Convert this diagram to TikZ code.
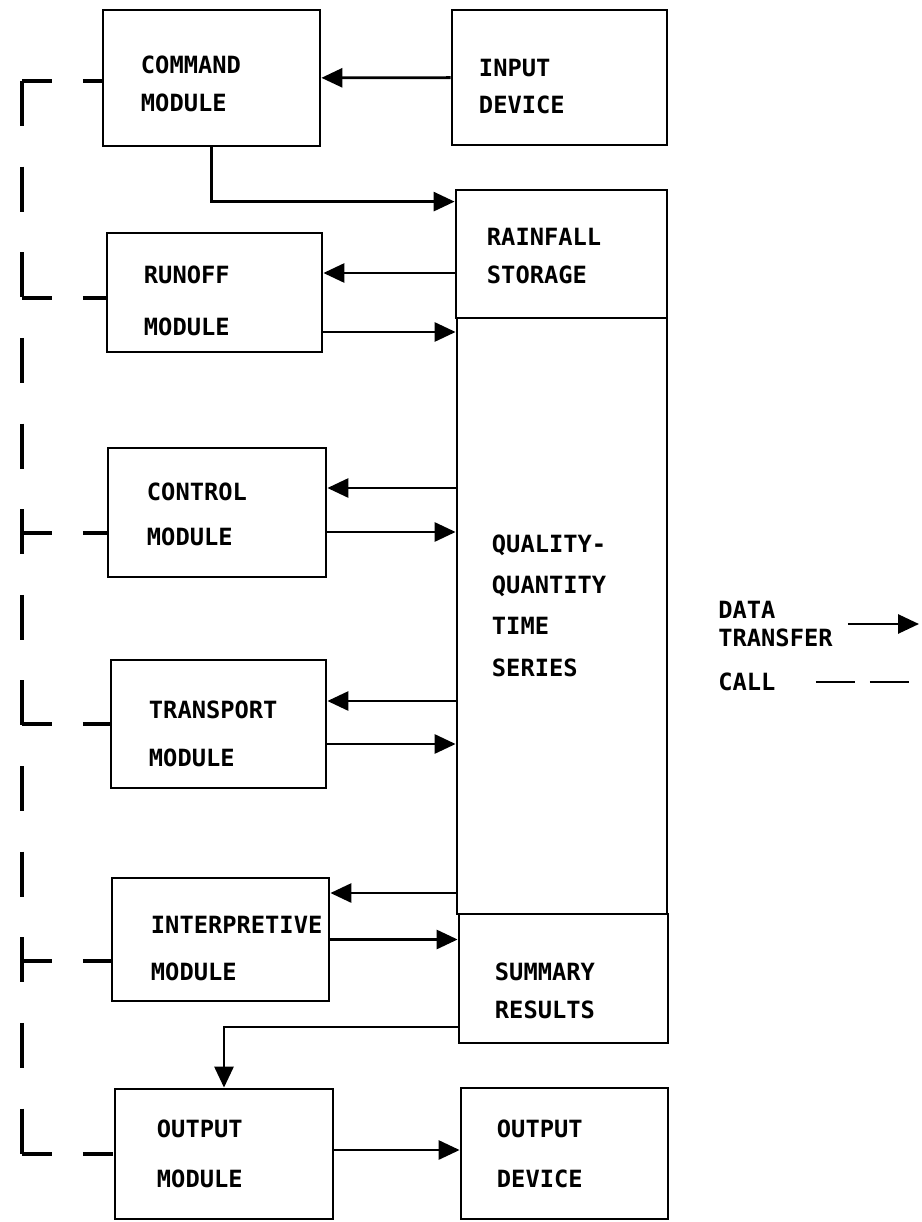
\documentclass[tikz,border=0pt]{standalone}
\usepackage{fontspec}
\setmonofont{DejaVu Sans Mono}
\usetikzlibrary{arrows.meta}
\begin{document}
\begin{tikzpicture}[x=0.02cm, y=-0.02cm,
  box/.style={draw, line width=1.6pt, inner sep=0pt},
  txt/.style={font=\ttfamily\bfseries\fontsize{13.5}{21.5}\selectfont, align=left, inner sep=0pt, anchor=west},
  flow/.style={line width=1.6pt, -{Triangle[length=0.42cm,width=0.38cm]}},
  spine/.style={line width=1.9pt, dash pattern=on 0.9cm off 0.813cm},
  branch/.style={line width=1.9pt, dash pattern=on 0.6cm off 0.62cm},
  legcall/.style={line width=1.6pt, dash pattern=on 0.78cm off 0.3cm}]
  \useasboundingbox (0,0) rectangle (921,1222);
  % modules
  \node[box, minimum width=4.34cm, minimum height=2.72cm] (cmd) at (211.5,78) {};
  \node[box, minimum width=4.30cm, minimum height=2.38cm] (run) at (214.5,292.5) {};
  \node[box, minimum width=4.36cm, minimum height=2.58cm] (ctl) at (217,512.5) {};
  \node[box, minimum width=4.30cm, minimum height=2.56cm] (trn) at (218.5,724) {};
  \node[box, minimum width=4.34cm, minimum height=2.46cm] (itp) at (220.5,939.5) {};
  \node[box, minimum width=4.36cm, minimum height=2.60cm] (out) at (224,1154) {};
  \node[txt] (cmdt) at ([xshift=0.78cm,yshift=-0.12cm]cmd.west) {COMMAND\\MODULE};
  \node[txt] (runt) at ([xshift=0.76cm,yshift=-0.17cm]run.west) {RUNOFF\\[8pt]MODULE};
  \node[txt] (ctlt) at ([xshift=0.80cm,yshift=-0.04cm]ctl.west) {CONTROL\\[4pt]MODULE};
  \node[txt] (trnt) at ([xshift=0.78cm,yshift=-0.20cm]trn.west) {TRANSPORT\\[5.5pt]MODULE};
  \node[txt] (itpt) at ([xshift=0.80cm,yshift=-0.18cm]itp.west) {INTERPRETIVE\\[5pt]MODULE};
  \node[txt] (outt) at ([xshift=0.86cm]out.west) {OUTPUT\\[7pt]MODULE};
  % devices
  \node[box, minimum width=4.30cm, minimum height=2.70cm] (inp) at (559.5,77.5) {};
  \node[box, minimum width=4.14cm, minimum height=2.62cm] (odv) at (564.5,1153.5) {};
  \node[txt] (inpt) at ([xshift=0.56cm,yshift=-0.18cm]inp.west) {INPUT\\DEVICE};
  \node[txt] (odvt) at ([xshift=0.74cm]odv.west) {OUTPUT\\[7pt]DEVICE};
  % storage column
  \node[box, minimum width=4.22cm, minimum height=2.56cm] (rain) at (561.5,254) {};
  \node[box, minimum width=4.20cm, minimum height=11.92cm] (qqts) at (562,616) {};
  \node[box, minimum width=4.18cm, minimum height=2.58cm] (summ) at (563.5,978.5) {};
  \node[txt] (raint) at ([xshift=0.64cm,yshift=-0.04cm]rain.west) {RAINFALL\\STORAGE};
  \node[txt] (qqtst) at ([xshift=0.72cm,yshift=0.21cm]qqts.west) {QUALITY-\\[2pt]QUANTITY\\[2pt]TIME\\[2pt]SERIES};
  \node[txt] (summt) at ([xshift=0.74cm,yshift=-0.25cm]summ.west) {SUMMARY\\RESULTS};
  % data transfer
  \draw[flow] (inp) -- (cmd);
  \draw[flow] (cmd.south) |- ([yshift=-0.26cm]rain.north west);
  \draw[flow] ([yshift=0.39cm]run.east -| rain.west) -- ([yshift=0.39cm]run.east);
  \draw[flow] ([yshift=-0.79cm]run.east) -- ([yshift=-0.79cm]run.east -| qqts.west);
  \draw[flow] ([yshift=0.49cm]ctl.east -| qqts.west) -- ([yshift=0.49cm]ctl.east);
  \draw[flow] ([yshift=-0.39cm]ctl.east) -- ([yshift=-0.39cm]ctl.east -| qqts.west);
  \draw[flow] ([yshift=0.46cm]trn.east -| qqts.west) -- ([yshift=0.46cm]trn.east);
  \draw[flow] ([yshift=-0.40cm]trn.east) -- ([yshift=-0.40cm]trn.east -| qqts.west);
  \draw[flow] ([yshift=0.93cm]itp.east -| qqts.west) -- ([yshift=0.93cm]itp.east);
  \draw[flow] (itp.east) -- (itp.east -| summ.west);
  \draw[flow] ([yshift=-0.97cm]summ.west) -| (out.north);
  \draw[flow] ([yshift=0.08cm]out.east) -- ([yshift=0.08cm]out.east -| odv.west);
  % calls
  \coordinate (ctop) at (22,81);
  \coordinate (cbot) at (22,1154);
  \draw[spine] (ctop) -- (cbot);
  \draw[branch] (ctop) -- (ctop -| cmd.west);
  \draw[branch] ([yshift=-0.11cm]run.west -| ctop) -- ([yshift=-0.11cm]run.west);
  \draw[branch] ([yshift=-0.41cm]ctl.west -| ctop) -- ([yshift=-0.41cm]ctl.west);
  \draw[branch] (trn.west -| ctop) -- (trn.west);
  \draw[branch] ([yshift=-0.43cm]itp.west -| ctop) -- ([yshift=-0.43cm]itp.west);
  \draw[branch] (cbot) -- (cbot -| out.west);
  % legend
  \node[txt] (dt) at (718,624) {DATA\\[-5.5pt]TRANSFER};
  \node[txt] (cl) at (718,682) {CALL};
  \coordinate (dtend) at (919,624);
  \coordinate (clend) at (909,682);
  \draw[flow] ([xshift=0.3cm]dt.east) -- (dtend);
  \draw[legcall] ([xshift=0.8cm]cl.east) -- (clend);
\end{tikzpicture}
\end{document}
